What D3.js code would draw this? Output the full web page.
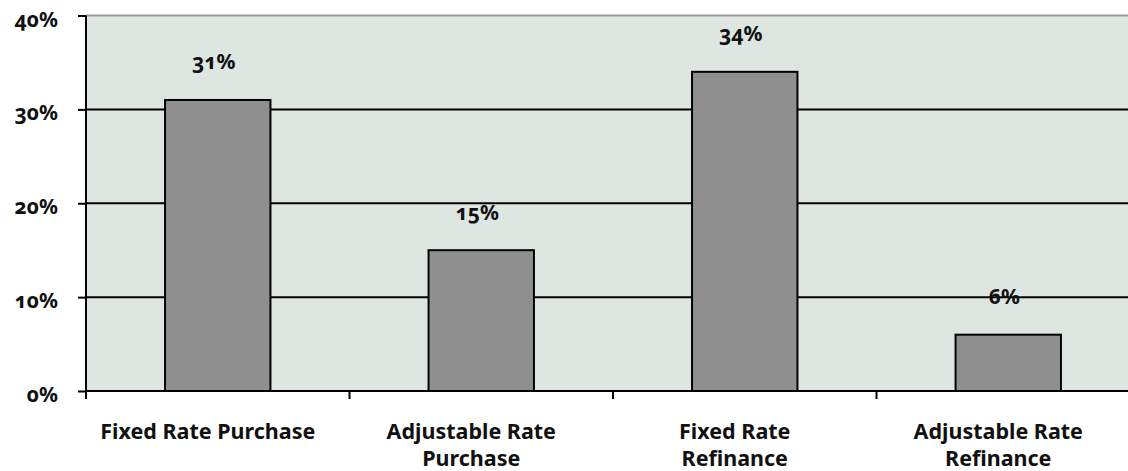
<!DOCTYPE html>
<html>
<head>
<meta charset="utf-8">
<script src="https://cdn.jsdelivr.net/npm/d3@7"></script>
<style>
  body { margin: 0; background: #fff; }
  text { font-family: "Noto Sans", "Open Sans", sans-serif; font-weight: bold; fill: #111;
         font-variant-numeric: oldstyle-nums; font-feature-settings: "onum" 1; }
</style>
</head>
<body>
<div id="chart"></div>
<script>
// chart data
const categories = ['Fixed Rate Purchase', 'Adjustable Rate Purchase', 'Fixed Rate Refinance', 'Adjustable Rate Refinance'];
const categoryLines = [['Fixed Rate Purchase'], ['Adjustable Rate', 'Purchase'], ['Fixed Rate', 'Refinance'], ['Adjustable Rate', 'Refinance']];
const shares = [31, 15, 34, 6];
const yTicks = [0, 10, 20, 30, 40];

const W = 1128, H = 471;
const plotLeft = 86, plotRight = 1140, plotTop = 15.5, plotBottom = 391;

const svg = d3.select('#chart').append('svg')
  .attr('width', W)
  .attr('height', H);

const x = d3.scaleBand()
  .domain(categories)
  .range([plotLeft, plotRight])
  .paddingInner(0.6)
  .paddingOuter(0.3);

const y = d3.scaleLinear()
  .domain([0, 40])
  .range([plotBottom, plotTop]);

const step = x.step();

// plot background
svg.append('rect')
  .attr('x', plotLeft).attr('y', y(40))
  .attr('width', plotRight - plotLeft).attr('height', y(0) - y(40))
  .attr('fill', '#dee6e2');

// top border
svg.append('line')
  .attr('x1', plotLeft).attr('x2', plotRight)
  .attr('y1', y(40)).attr('y2', y(40))
  .attr('stroke', '#999').attr('stroke-width', 2);

// gridlines
svg.selectAll('.grid')
  .data(yTicks.filter(d => d > 0 && d < 40))
  .enter().append('line')
  .attr('class', 'grid')
  .attr('x1', plotLeft).attr('x2', plotRight)
  .attr('y1', d => y(d)).attr('y2', d => y(d))
  .attr('stroke', '#000').attr('stroke-width', 2);

// bars
svg.selectAll('.bar')
  .data(shares)
  .enter().append('rect')
  .attr('class', 'bar')
  .attr('x', (d, i) => x(categories[i]))
  .attr('y', d => y(d))
  .attr('width', x.bandwidth())
  .attr('height', d => y(0) - y(d))
  .attr('fill', '#8f8f8f')
  .attr('stroke', '#000')
  .attr('stroke-width', 2);

// value labels
svg.selectAll('.val')
  .data(shares)
  .enter().append('text')
  .attr('class', 'val')
  .attr('x', (d, i) => x(categories[i]) + x.bandwidth() / 2 - 4)
  .attr('y', d => y(d) - 38)
  .attr('dy', '0.35em')
  .attr('text-anchor', 'middle')
  .style('font-size', '21px')
  .text(d => d + '%');

// y axis
const yAxis = svg.append('g')
  .attr('transform', `translate(${plotLeft},0)`)
  .call(d3.axisLeft(y).tickValues(yTicks).tickFormat(d => d + '%').tickSize(8).tickPadding(20));
yAxis.select('.domain').remove();
yAxis.selectAll('.tick line').attr('stroke', '#000').attr('stroke-width', 2);
yAxis.selectAll('.tick text')
  .attr('dy', '0.5em')
  .style('font-size', '21px')
  .style('font-family', '"Noto Sans", sans-serif');

svg.append('line')
  .attr('x1', plotLeft).attr('x2', plotLeft)
  .attr('y1', y(40)).attr('y2', y(0) + 8)
  .attr('stroke', '#000').attr('stroke-width', 2);

// x axis
svg.append('line')
  .attr('x1', plotLeft).attr('x2', plotRight)
  .attr('y1', y(0)).attr('y2', y(0))
  .attr('stroke', '#000').attr('stroke-width', 2);

svg.selectAll('.xtick')
  .data(categories)
  .enter().append('line')
  .attr('class', 'xtick')
  .attr('x1', d => x(d) - step * 0.3).attr('x2', d => x(d) - step * 0.3)
  .attr('y1', y(0)).attr('y2', y(0) + 8)
  .attr('stroke', '#000').attr('stroke-width', 2);

// category labels sit a little left of the bar centres
const xl = svg.selectAll('.xlab')
  .data(categories)
  .enter().append('text')
  .attr('class', 'xlab')
  .attr('x', d => x(d) + x.bandwidth() / 2 - 10)
  .attr('y', 439)
  .attr('text-anchor', 'middle')
  .style('font-size', '21.5px');

xl.selectAll('tspan')
  .data((d, i) => categoryLines[i])
  .enter().append('tspan')
  .attr('x', function() { return d3.select(this.parentNode).attr('x'); })
  .attr('dy', (d, i) => i === 0 ? 0 : 27)
  .text(d => d);
</script>
</body>
</html>
